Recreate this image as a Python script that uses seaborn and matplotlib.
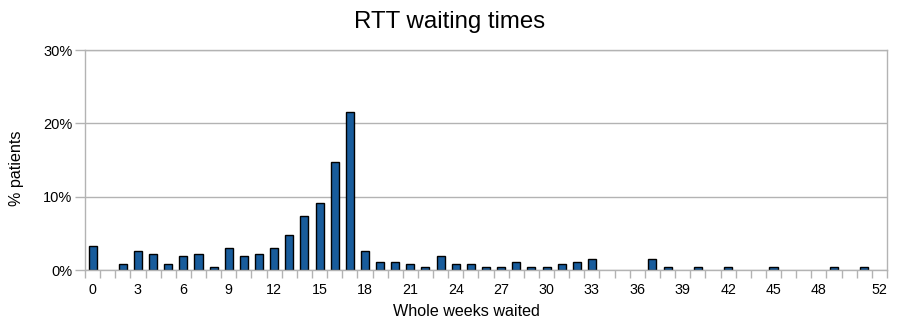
import matplotlib
matplotlib.use("Agg")
import matplotlib.pyplot as plt
import matplotlib.ticker as mticker
import numpy as np
import pandas as pd
import seaborn as sns

# Share of patients (%) by whole weeks waited, weeks 0..52
weeks = list(range(53))
pct_patients = [
    3.3, 0.0, 0.8, 2.6, 2.2, 0.8, 1.95, 2.2, 0.4, 3.0,
    1.95, 2.2, 3.0, 4.75, 7.35, 9.1, 14.7, 21.5, 2.6, 1.13,
    1.13, 0.8, 0.4, 1.9, 0.8, 0.8, 0.4, 0.4, 1.13, 0.4,
    0.4, 0.8, 1.13, 1.5, 0.0, 0.0, 0.0, 1.5, 0.4, 0.0,
    0.4, 0.0, 0.4, 0.0, 0.0, 0.4, 0.0, 0.0, 0.0, 0.4,
    0.0, 0.4, 0.0,
]
x_tick_labels = ["0", "3", "6", "9", "12", "15", "18", "21", "24", "27",
                 "30", "33", "36", "39", "42", "45", "48", "52"]
x_tick_weeks = [0, 3, 6, 9, 12, 15, 18, 21, 24, 27, 30, 33, 36, 39, 42, 45, 48, 52]
y_ticks = [0, 10, 20, 30]

df = pd.DataFrame({"week": weeks, "pct": pct_patients})

sns.set_theme(style="white")
plt.rcParams["font.family"] = ["Liberation Sans", "DejaVu Sans"]

fig = plt.figure(figsize=(9.01, 3.29), dpi=100)
ax = fig.add_axes([85 / 901, 1 - 270 / 329, 802 / 901, 220 / 329])

grid_col = "#b3b3b3"
sns.barplot(data=df, x="week", y="pct", order=weeks, color="#185c9c",
            saturation=1, width=0.53, edgecolor="black", linewidth=1.0, ax=ax)

# weeks with no patients get no bar outline at the baseline
for patch in ax.patches:
    if patch.get_height() == 0:
        patch.set_visible(False)

ax.set_xlim(-0.5, 52.5)
ax.set_ylim(0, 30)
ax.set_yticks(y_ticks)
ax.yaxis.set_major_formatter(mticker.FuncFormatter(lambda v, p: f"{int(v)}%"))
ax.yaxis.grid(True, color=grid_col, linewidth=1)
ax.set_axisbelow(True)

ax.set_xticks(x_tick_weeks)
ax.set_xticklabels(x_tick_labels)
ax.set_xticks(np.arange(-0.5, 53, 1), minor=True)
ax.tick_params(axis="x", which="major", length=0, pad=9, labelsize=10.3, colors="black")
ax.tick_params(axis="x", which="minor", length=6, width=1, color=grid_col, direction="out")
ax.tick_params(axis="y", which="major", length=7, width=1, color=grid_col,
               direction="out", labelsize=10.5, pad=2, labelcolor="black")
ax.tick_params(axis="x", bottom=True, which="both")
ax.tick_params(axis="y", left=True)

for side in ["left", "right", "top", "bottom"]:
    ax.spines[side].set_visible(True)
    ax.spines[side].set_color(grid_col)
    ax.spines[side].set_linewidth(1)

ax.set_xlabel("Whole weeks waited", fontsize=11.6, color="black")
ax.set_ylabel("% patients", fontsize=11.6, color="black")
ax.xaxis.set_label_coords((466 - 85) / 802, -(312 - 270) / 220)
ax.yaxis.set_label_coords(-(85 - 17) / 802, (270 - 168) / 220)
ax.xaxis.label.set_va("center")
ax.yaxis.label.set_va("center")
fig.text(450 / 901, 1 - 22 / 329, "RTT waiting times", ha="center", va="center",
         fontsize=17.3, color="black")

fig.savefig("out.png", dpi=100, facecolor="white")
